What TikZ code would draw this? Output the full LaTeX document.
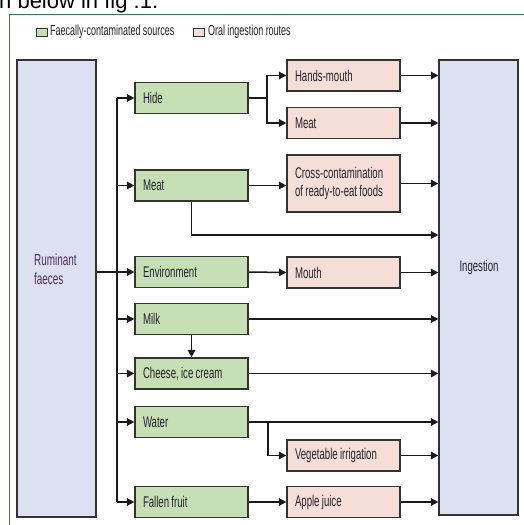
\documentclass[tikz,border=0pt]{standalone}
\usepackage{fontspec}
\setmainfont{Liberation Sans}
\newfontfamily\cond[FakeStretch=0.62]{Liberation Sans}
\newcommand{\cfb}[2]{\cond\fontsize{#1}{#2}\selectfont}
\usetikzlibrary{arrows.meta}
\definecolor{srcfill}{HTML}{C6DFB4}
\definecolor{orfill}{HTML}{F5DED8}
\definecolor{endfill}{HTML}{DDE0F0}
\definecolor{boxline}{HTML}{333333}
\definecolor{lineclr}{HTML}{1A1A1A}
\definecolor{txt}{HTML}{22222C}
\definecolor{frame}{HTML}{2E7D4F}
\definecolor{rumtxt}{HTML}{4A2F5E}
\begin{document}
\begin{tikzpicture}[x=1pt,y=-1pt,
  every node/.style={font=\cfb{15.5}{16}, text=txt},
  tightsp/.style={execute at begin node={\spaceskip=2.3pt plus 0.5pt minus 0.3pt\xspaceskip=2.6pt\relax}},
  boxbase/.style={tightsp, draw=boxline, line width=1.2pt, minimum width=113pt, minimum height=31pt,
    text width=97pt, align=left, inner xsep=8pt, inner ysep=2pt},
  srcbox/.style={boxbase, fill=srcfill},
  orbox/.style={boxbase, fill=orfill},
  bigbox/.style={draw=boxline, line width=1.2pt, fill=endfill, minimum width=79pt},
  arr/.style={draw=lineclr, line width=1.5pt, -{Triangle[length=7.5pt,width=7.5pt]}},
  plain/.style={draw=lineclr, line width=1.5pt},
  legsq/.style={draw=boxline, line width=0.9pt, minimum width=11pt, minimum height=8pt, inner sep=0pt}
]
\useasboundingbox (0,0) rectangle (524,525);
\fill[white] (0,0) rectangle (524,525);

% fragment of surrounding text
\node[font=\fontsize{22}{24}\selectfont, text=black, anchor=base west, inner sep=0pt] (frag) at (-1,8.5) {n below in fig .1.};

% frame
\draw[frame, line width=1pt] (9.5,530) -- (9.5,14) -- (530,14);

% legend
\node[legsq, fill=srcfill] (lg1) at (42,32) {};
\node[tightsp, anchor=west, inner sep=0pt, font=\cfb{14.5}{15}] (lt1) at (50,32) {Faecally-contaminated sources};
\node[legsq, fill=orfill] (lg2) at (199,32) {};
\node[tightsp, anchor=west, inner sep=0pt, font=\cfb{14.5}{15}] (lt2) at (208,32) {Oral ingestion routes};

% big boxes
\node[bigbox, minimum height=457pt] (rum) at (56.5,288.5) {};
\node[anchor=west, align=left, inner sep=0pt, text=rumtxt, font=\cfb{16}{19}] (rumt) at (34,269.5) {Ruminant\\faeces};
\node[bigbox, minimum height=455pt] (ing) at (478.5,287.5) {};
\node[inner sep=0pt] (ingt) at (479,267) {Ingestion};

% source boxes
\node[srcbox] (hide) at (191.5,98) {Hide};
\node[srcbox] (meat) at (191.5,185.5) {Meat};
\node[srcbox] (env) at (191.5,272) {Environment};
\node[srcbox] (milk) at (191.5,319) {Milk};
\node[srcbox] (cheese) at (191.5,373.5) {Cheese, ice cream};
\node[srcbox] (water) at (191.5,422) {Water};
\node[srcbox] (fruit) at (191.5,502) {Fallen fruit};

% route boxes
\node[orbox] (hm) at (343.5,75.5) {Hands-mouth};
\node[orbox] (pmeat) at (343.5,123) {Meat};
\node[orbox, minimum height=57pt, font=\cfb{15.5}{18}] (cross) at (343.5,183.5) {Cross-contamination\\of ready-to-eat foods};
\node[orbox] (mouth) at (343.5,272.5) {Mouth};
\node[orbox] (veg) at (343.5,455.5) {Vegetable irrigation};
\node[orbox] (apple) at (343.5,502) {Apple juice};

% coordinates
\coordinate (bus) at (117,0);
\coordinate (hsplit) at (267,98);
\coordinate (wsplit) at (268,422);
\coordinate (mlow) at (0,235);

% ruminant to sources
\draw[plain] (hide.west -| bus) -- (fruit.west -| bus);
\draw[arr] (rum.east |- env.west) -- (env.west);
\foreach \n in {hide,meat,milk,cheese,water,fruit}
  \draw[arr] (\n.west -| bus) -- (\n.west);

% hide branch
\draw[plain] (hide.east) -- (hsplit);
\draw[arr] (hsplit) |- (hm.west);
\draw[arr] (hsplit) |- (pmeat.west);

% meat
\draw[arr] (meat.east) -- (cross.west |- meat.east);
\draw[arr] (meat.south) |- (ing.west |- mlow);

% environment
\draw[arr] (env.east) -- (mouth.west);

% milk
\draw[arr] (milk.south) -- (cheese.north);
\draw[arr] (milk.east) -- (ing.west |- milk.east);
\draw[arr] (cheese.east) -- (ing.west |- cheese.east);

% water
\draw[arr] (water.east) -- (ing.west |- water.east);
\draw[arr] (wsplit) |- (veg.west);

% fruit
\draw[arr] (fruit.east) -- (apple.west);

% routes to ingestion
\foreach \n in {hm,pmeat,cross,mouth,veg,apple}
  \draw[arr] (\n.east) -- (ing.west |- \n.east);
\end{tikzpicture}
\end{document}
